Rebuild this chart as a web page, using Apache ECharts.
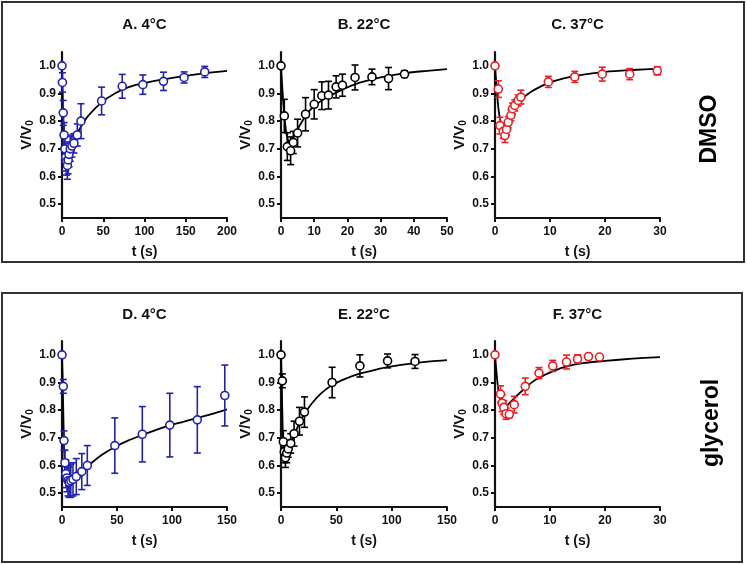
<!DOCTYPE html>
<html>
<head>
<meta charset="utf-8">
<script src="https://cdn.jsdelivr.net/npm/echarts@6/dist/echarts.min.js"></script>
<style>
  html, body { margin: 0; padding: 0; background: #fff; }
  #chart { width: 747px; height: 564px; }
</style>
</head>
<body>
<div id="chart"></div>
<script>
// panel titles, axis ranges, tick values
var titles = ['A. 4°C', 'B. 22°C', 'C. 37°C', 'D. 4°C', 'E. 22°C', 'F. 37°C'];
var sideLabels = ['DMSO', 'glycerol'];
var yTicks = [0.5, 0.6, 0.7, 0.8, 0.9, 1.0];
var xMax = [200, 50, 30, 150, 150, 30];
var xStep = [50, 10, 10, 50, 50, 10];

// A. DMSO 4°C  (t, V/V0, SEM)
var tA = [0, 0.5, 1.5, 2.5, 3.5, 4.5, 5.5, 6.5, 7.5, 8.5, 10, 12, 14.5, 18.5, 23, 48, 73, 98, 123, 148, 173];
var vA = [1.0, 0.94, 0.83, 0.75, 0.70, 0.67, 0.655, 0.64, 0.66, 0.68, 0.70, 0.71, 0.72, 0.75, 0.80, 0.873, 0.926, 0.932, 0.944, 0.958, 0.978];
var eA = [0, 0.035, 0.045, 0.045, 0.045, 0.05, 0.05, 0.05, 0.05, 0.045, 0.045, 0.04, 0.035, 0.04, 0.063, 0.05, 0.043, 0.035, 0.033, 0.02, 0.02];
var fitTA = [0, 1, 2, 3, 4, 5.5, 8, 12, 16, 24, 32, 48, 64, 80, 100, 125, 150, 175, 200];
var fitVA = [1.0, 0.88, 0.78, 0.72, 0.69, 0.672, 0.68, 0.71, 0.74, 0.785, 0.82, 0.868, 0.9, 0.922, 0.938, 0.952, 0.964, 0.974, 0.982];

// B. DMSO 22°C
var tB = [0, 1, 1.9, 2.9, 3.7, 5, 7.4, 10, 12.3, 14.3, 16.6, 18.5, 22.3, 27.4, 32.4, 37.2];
var vB = [1.0, 0.819, 0.708, 0.693, 0.723, 0.757, 0.825, 0.861, 0.892, 0.894, 0.924, 0.93, 0.958, 0.96, 0.954, 0.97];
var eB = [0, 0.06, 0.05, 0.05, 0.04, 0.05, 0.06, 0.053, 0.05, 0.05, 0.04, 0.04, 0.045, 0.028, 0.04, 0.012];
var fitTB = [0, 0.5, 1, 1.5, 2, 2.7, 3.5, 5, 7.4, 10, 14.8, 22.4, 30, 37.4, 44, 50];
var fitVB = [1.0, 0.9, 0.82, 0.765, 0.735, 0.722, 0.735, 0.771, 0.819, 0.855, 0.892, 0.934, 0.958, 0.974, 0.982, 0.988];

// C. DMSO 37°C
var tC = [0, 0.6, 0.9, 1.5, 1.8, 2.1, 2.4, 2.9, 3.2, 3.6, 4.2, 4.7, 9.7, 14.5, 19.5, 24.5, 29.5];
var vC = [1.0, 0.916, 0.784, 0.763, 0.748, 0.77, 0.796, 0.821, 0.845, 0.857, 0.875, 0.887, 0.942, 0.96, 0.97, 0.97, 0.982];
var eC = [0, 0.03, 0.03, 0.025, 0.025, 0.02, 0.02, 0.02, 0.02, 0.02, 0.02, 0.025, 0.02, 0.02, 0.025, 0.02, 0.015];
var fitTC = [0, 0.3, 0.6, 1.0, 1.4, 2, 3, 4, 5, 6.5, 8, 10, 12.5, 15, 20, 25, 30];
var fitVC = [1.0, 0.92, 0.85, 0.8, 0.785, 0.795, 0.83, 0.86, 0.882, 0.905, 0.922, 0.94, 0.955, 0.965, 0.978, 0.985, 0.99];

// D. glycerol 4°C
var tD = [0, 1.2, 1.8, 2.7, 3.5, 4.5, 5.5, 6.5, 8, 10, 13, 18, 23, 48, 73, 98, 123, 148];
var vD = [1.0, 0.886, 0.69, 0.61, 0.57, 0.555, 0.545, 0.54, 0.545, 0.55, 0.56, 0.578, 0.6, 0.672, 0.713, 0.746, 0.765, 0.853];
var eD = [0, 0.025, 0.035, 0.045, 0.05, 0.05, 0.055, 0.055, 0.06, 0.06, 0.065, 0.065, 0.072, 0.1, 0.1, 0.115, 0.12, 0.11];
var fitTD = [0, 0.5, 1, 1.5, 2, 3, 4.3, 7, 10, 15, 23, 35, 48, 60, 73, 85, 98, 110, 123, 135, 150];
var fitVD = [1.0, 0.93, 0.83, 0.73, 0.655, 0.575, 0.545, 0.548, 0.556, 0.572, 0.597, 0.635, 0.667, 0.69, 0.71, 0.728, 0.745, 0.758, 0.772, 0.785, 0.803];

// E. glycerol 22°C
var tE = [0, 1.2, 2.1, 3.0, 4.0, 5.2, 6.5, 8.8, 11.8, 16.7, 21.2, 46.2, 71.3, 96.3, 121.1];
var vE = [1.0, 0.906, 0.686, 0.65, 0.628, 0.645, 0.66, 0.68, 0.715, 0.76, 0.793, 0.9, 0.96, 0.978, 0.976];
var eE = [0, 0.025, 0.04, 0.04, 0.035, 0.035, 0.03, 0.035, 0.045, 0.05, 0.055, 0.055, 0.04, 0.025, 0.025];
var fitTE = [0, 0.5, 1, 1.5, 2, 2.7, 3.5, 5, 7, 10, 14, 20, 28, 36, 46, 58, 71, 85, 100, 120, 135, 150];
var fitVE = [1.0, 0.93, 0.83, 0.74, 0.68, 0.645, 0.632, 0.638, 0.658, 0.69, 0.73, 0.78, 0.825, 0.86, 0.89, 0.913, 0.932, 0.946, 0.958, 0.969, 0.976, 0.981];

// F. glycerol 37°C
var tF = [0, 1.0, 1.3, 1.6, 2.0, 2.6, 3.5, 5.5, 8.0, 10.5, 13, 15, 17, 19];
var vF = [1.0, 0.858, 0.825, 0.81, 0.787, 0.785, 0.82, 0.886, 0.934, 0.96, 0.974, 0.985, 0.994, 0.992];
var eF = [0, 0.03, 0.03, 0.025, 0.02, 0.012, 0.03, 0.03, 0.02, 0.02, 0.025, 0.015, 0.01, 0.005];
var fitTF = [0, 0.3, 0.6, 1.0, 1.4, 1.8, 2.5, 3.5, 4.5, 5.5, 7, 8.5, 10.5, 13, 16, 20, 25, 30];
var fitVF = [1.0, 0.93, 0.875, 0.835, 0.815, 0.81, 0.823, 0.843, 0.862, 0.88, 0.905, 0.922, 0.94, 0.958, 0.97, 0.978, 0.986, 0.992];

var colors = ['#2222b4', '#000000', '#ee1c24', '#2222b4', '#000000', '#ee1c24'];
var panels = [
  [tA, vA, eA, fitTA, fitVA],
  [tB, vB, eB, fitTB, fitVB],
  [tC, vC, eC, fitTC, fitVC],
  [tD, vD, eD, fitTD, fitVD],
  [tE, vE, eE, fitTE, fitVE],
  [tF, vF, eF, fitTF, fitVF]
];

var FONT = '"Liberation Sans", Arial, sans-serif';
var gridLeft = [62, 281, 495];
var gridWidth = [165, 166, 165];
var gridTop = [52, 341];

function zip(a, b, c) {
  return a.map(function (x, i) { return c ? [x, b[i], c[i]] : [x, b[i]]; });
}

function errorBars(color) {
  return function (params, api) {
    var x = api.value(0), v = api.value(1), e = api.value(2);
    var hi = api.coord([x, v + e]);
    var lo = api.coord([x, v - e]);
    var w = 3.5;
    var st = { stroke: color, lineWidth: 1.6 };
    return {
      type: 'group',
      children: [
        { type: 'line', shape: { x1: hi[0], y1: hi[1], x2: lo[0], y2: lo[1] }, style: st },
        { type: 'line', shape: { x1: hi[0] - w, y1: hi[1], x2: hi[0] + w, y2: hi[1] }, style: st },
        { type: 'line', shape: { x1: lo[0] - w, y1: lo[1], x2: lo[0] + w, y2: lo[1] }, style: st }
      ]
    };
  };
}

var grid = [], xAxis = [], yAxis = [], series = [], graphic = [];

panels.forEach(function (p, i) {
  var col = i % 3, row = Math.floor(i / 3);
  grid.push({ left: gridLeft[col], top: gridTop[row], width: gridWidth[col], height: 166, outerBoundsMode: 'none' });

  xAxis.push({
    type: 'value', gridIndex: i, min: 0, max: xMax[i], interval: xStep[i],
    name: 't (s)', nameLocation: 'middle', nameGap: 27,
    nameTextStyle: { fontFamily: FONT, fontWeight: 'bold', fontSize: 14, color: '#111' },
    axisLine: { lineStyle: { color: '#111', width: 2.2 } },
    axisTick: { length: 4, lineStyle: { color: '#111', width: 2 } },
    axisLabel: { fontFamily: FONT, fontWeight: 'bold', fontSize: 12, color: '#111', margin: 8 },
    splitLine: { show: false }
  });

  yAxis.push({
    type: 'value', gridIndex: i, min: 0.45, max: 1.05,
    name: '{a|V/V}{b|0}', nameLocation: 'middle', nameRotate: 90, nameGap: 27,
    nameTextStyle: {
      rich: {
        a: { fontFamily: FONT, fontWeight: 'bold', fontSize: 15, color: '#111' },
        b: { fontFamily: FONT, fontWeight: 'bold', fontSize: 10, color: '#111', verticalAlign: 'bottom', padding: [6, 0, 0, 0] }
      }
    },
    axisLine: { lineStyle: { color: '#111', width: 2.2 } },
    axisTick: { length: 4, customValues: yTicks, lineStyle: { color: '#111', width: 2 } },
    axisLabel: {
      customValues: yTicks, fontFamily: FONT, fontWeight: 'bold', fontSize: 12, color: '#111', margin: 6,
      formatter: function (v) { return v.toFixed(1); }
    },
    splitLine: { show: false }
  });

  series.push({
    type: 'line', xAxisIndex: i, yAxisIndex: i,
    data: zip(p[3], p[4]), showSymbol: false, smooth: 0.3,
    lineStyle: { color: '#000', width: 1.8 }, z: 2
  });
  series.push({
    type: 'custom', xAxisIndex: i, yAxisIndex: i,
    data: zip(p[0], p[1], p[2]).filter(function (d) { return d[2] > 0; }),
    renderItem: errorBars(colors[i]), z: 3
  });
  series.push({
    type: 'scatter', xAxisIndex: i, yAxisIndex: i,
    data: zip(p[0], p[1]), symbol: 'circle', symbolSize: 8,
    itemStyle: { color: '#fff', borderColor: colors[i], borderWidth: 1.6, opacity: 1 }, z: 4
  });

  graphic.push({
    type: 'text', x: gridLeft[col] + gridWidth[col] / 2, y: row === 0 ? 25 : 315,
    style: { text: titles[i], align: 'center', verticalAlign: 'middle', font: 'bold 15px ' + FONT, fill: '#111' }
  });
});

// framed boxes around each row and the row labels
graphic.push({ type: 'rect', shape: { x: 2, y: 2, width: 742, height: 260 }, style: { fill: 'none', stroke: '#333', lineWidth: 2 } });
graphic.push({ type: 'rect', shape: { x: 2, y: 293, width: 740, height: 269 }, style: { fill: 'none', stroke: '#333', lineWidth: 2 } });
graphic.push({ type: 'text', x: 710, y: 129, rotation: Math.PI / 2,
  style: { text: sideLabels[0], align: 'center', verticalAlign: 'middle', font: 'bold 23px ' + FONT, fill: '#000' } });
graphic.push({ type: 'text', x: 712, y: 423, rotation: Math.PI / 2,
  style: { text: sideLabels[1], align: 'center', verticalAlign: 'middle', font: 'bold 23px ' + FONT, fill: '#000' } });

var chart = echarts.init(document.getElementById('chart'), null, { renderer: 'canvas' });
chart.setOption({
  animation: false,
  backgroundColor: '#fff',
  grid: grid,
  xAxis: xAxis,
  yAxis: yAxis,
  series: series,
  graphic: graphic
});
</script>
</body>
</html>
